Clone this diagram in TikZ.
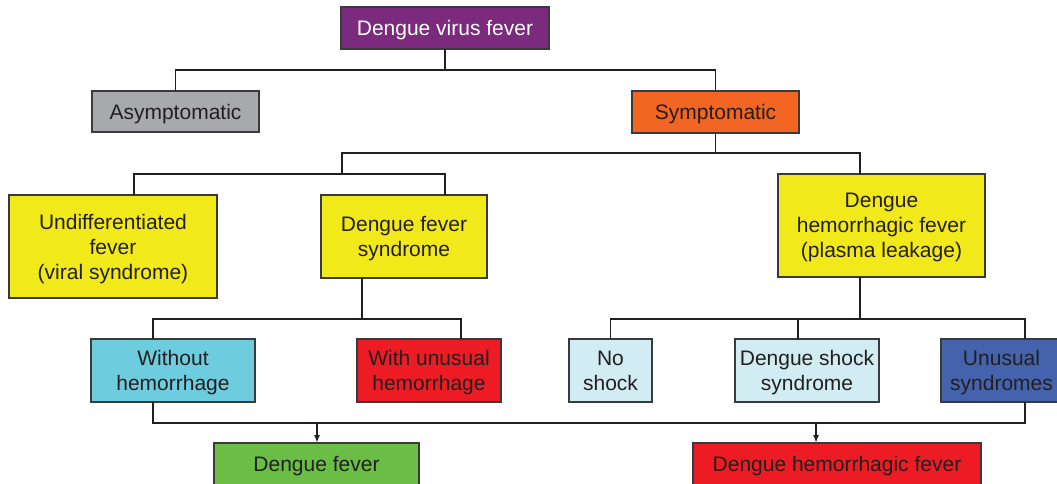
\documentclass[tikz,border=0pt]{standalone}
\usepackage{fontspec}
\setmainfont{Liberation Sans}
\usetikzlibrary{arrows.meta}
\definecolor{cPurple}{HTML}{7B2A7D}
\definecolor{cGray}{HTML}{A7A9AC}
\definecolor{cOrange}{HTML}{F26522}
\definecolor{cYellow}{HTML}{F1E91A}
\definecolor{cCyan}{HTML}{6DCCDD}
\definecolor{cRed}{HTML}{ED1C24}
\definecolor{cLight}{HTML}{D1ECF2}
\definecolor{cBlue}{HTML}{4563AC}
\definecolor{cGreen}{HTML}{6ABD45}
\definecolor{cLine}{HTML}{231F20}
\definecolor{cBorder}{HTML}{3A3A3A}
\begin{document}
\begin{tikzpicture}[x=1pt,y=-1pt,
  box/.style={draw=cBorder, line width=1.3pt, inner sep=0pt, outer sep=0pt,
    align=center, text=cLine, text depth=0pt, font=\fontsize{21}{25}\selectfont},
  conn/.style={draw=cLine, line width=1.6pt},
  arr/.style={conn, -{Latex[length=8pt,width=6pt]}}]
\useasboundingbox (0,0) rectangle (1057,483);

% nodes
\node[box, fill=cPurple, text=white, minimum width=208pt, minimum height=42pt] (top) at (445,28) {Dengue virus fever};
\node[box, fill=cGray, minimum width=167pt, minimum height=41pt] (asym) at (175.5,111.5) {Asymptomatic};
\node[box, fill=cOrange, minimum width=167pt, minimum height=42pt] (sym) at (715.5,112) {Symptomatic};
\node[box, fill=cYellow, minimum width=208pt, minimum height=103pt] (undiff) at (113,246.5) {Undifferentiated\\fever\\(viral syndrome)};
\node[box, fill=cYellow, minimum width=166pt, minimum height=83pt] (dfs) at (404,236.5) {Dengue fever\\syndrome};
\node[box, fill=cYellow, minimum width=207pt, minimum height=103pt] (dhf) at (881.5,225.5) {Dengue\\hemorrhagic fever\\(plasma leakage)};
\node[box, fill=cCyan, minimum width=164pt, minimum height=63pt] (woh) at (173,370.5) {Without\\hemorrhage};
\node[box, fill=cRed, minimum width=144pt, minimum height=63pt] (wuh) at (429,370.5) {With unusual\\hemorrhage};
\node[box, fill=cLight, minimum width=83pt, minimum height=63pt] (nos) at (610.5,370.5) {No\\shock};
\node[box, fill=cLight, minimum width=144pt, minimum height=63pt] (dss) at (807,370.5) {Dengue shock\\syndrome};
\node[box, fill=cBlue, minimum width=121pt, minimum height=63pt] (uns) at (1001.5,370.5) {Unusual\\syndromes};
\node[box, fill=cGreen, minimum width=205pt, minimum height=42pt] (df) at (316.5,464) {Dengue fever};
\node[box, fill=cRed, minimum width=288pt, minimum height=42pt] (dhfb) at (837,464) {Dengue hemorrhagic fever};

% junction coordinates
\coordinate (j0) at (445,70);
\coordinate (j1) at (715,153);
\coordinate (j2) at (342,174);
\coordinate (j3) at (0,319);
\coordinate (dhfin) at ([xshift=-21.5pt]dhf.north);
\coordinate (dhfout) at ([xshift=-21.5pt]dhf.south);
\coordinate (uin) at ([xshift=21pt]undiff.north);
\coordinate (dfsin) at ([xshift=41pt]dfs.north);
\coordinate (dfsout) at ([xshift=-42pt]dfs.south);
\coordinate (wohin) at ([xshift=-20pt]woh.north);
\coordinate (wohout) at ([xshift=-20pt]woh.south);
\coordinate (wuhin) at ([xshift=32pt]wuh.north);
\coordinate (dssin) at ([xshift=-9pt]dss.north);
\coordinate (unsin) at ([xshift=23.5pt]uns.north);
\coordinate (unsout) at ([xshift=23.5pt]uns.south);
\coordinate (a1) at (317,423);
\coordinate (a2) at (816,423);
\coordinate (dhfbin) at (816,443);

% connectors
\draw[conn] (top.south) -- (j0);
\draw[conn] (asym.north) |- (j0) -| (sym.north);
\draw[conn] (sym.south) -- (sym.south |- j1);
\draw[conn] (j2) |- (j1) -| (dhfin);
\draw[conn] (uin) |- (j2) -| (dfsin);
\draw[conn] (dfsout) -- (dfsout |- j3);
\draw[conn] (wohin) |- (dfsout |- j3) -| (wuhin);
\draw[conn] (dhfout) -- (dhfout |- j3);
\draw[conn] (nos.north) |- (dhfout |- j3) -| (unsin);
\draw[conn] (dssin) -- (dssin |- j3);
\draw[conn] (wohout) |- (a1) -- (a2) -| (unsout);
\draw[arr] (a1) -- (a1 |- df.north);
\draw[arr] (a2) -- (dhfbin);
\end{tikzpicture}
\end{document}
